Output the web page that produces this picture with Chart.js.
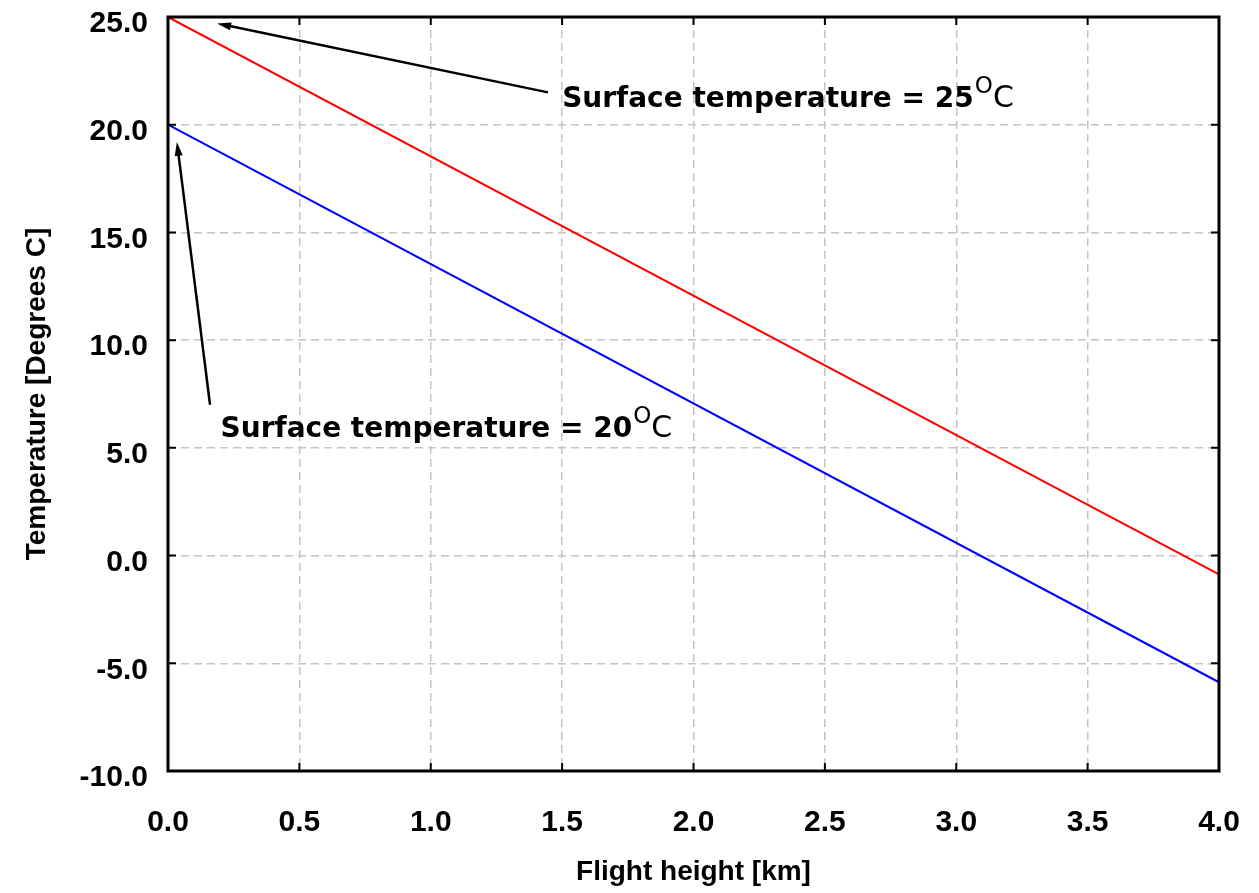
<!DOCTYPE html>
<html>
<head>
<meta charset="utf-8">
<script src="https://cdn.jsdelivr.net/npm/chart.js@4.4.1/dist/chart.umd.min.js"></script>
<style>
  html, body { margin: 0; padding: 0; background: #fff; }
  #box { width: 1259px; height: 893px; }
</style>
</head>
<body>
<div id="box"><canvas id="myChart"></canvas></div>
<script>
// flight height [km] and temperature [deg C] for two surface temperatures
const heightKm = [0.0, 4.0];
const tempSurf25 = [25.0, -0.87];
const tempSurf20 = [20.0, -5.88];

const xTicks = [0.0, 0.5, 1.0, 1.5, 2.0, 2.5, 3.0, 3.5, 4.0];
const yTicks = [-10.0, -5.0, 0.0, 5.0, 10.0, 15.0, 20.0, 25.0];

const noteTexts = ['Surface temperature = 25', 'Surface temperature = 20'];

// where the notes and their arrows sit, in axis units
const notes = [
  { tail: [1.446, 21.5], head: [0.187, 24.7], text: [1.50, 20.8] },
  { tail: [0.160, 7.0],  head: [0.034, 19.2], text: [0.20, 5.5] }
];

function arrow(ctx, x0, y0, x1, y1) {
  const ang = Math.atan2(y1 - y0, x1 - x0);
  ctx.beginPath();
  ctx.moveTo(x0, y0);
  ctx.lineTo(x1 - 8 * Math.cos(ang), y1 - 8 * Math.sin(ang));
  ctx.stroke();
  ctx.beginPath();
  ctx.moveTo(x1, y1);
  ctx.lineTo(x1 - 14 * Math.cos(ang) + 4 * Math.sin(ang), y1 - 14 * Math.sin(ang) - 4 * Math.cos(ang));
  ctx.lineTo(x1 - 14 * Math.cos(ang) - 4 * Math.sin(ang), y1 - 14 * Math.sin(ang) + 4 * Math.cos(ang));
  ctx.closePath();
  ctx.fill();
}

const overlay = {
  id: 'overlay',
  afterDraw(chart) {
    const { ctx, chartArea: a, scales: { x, y } } = chart;
    ctx.save();
    ctx.strokeStyle = '#000';
    ctx.fillStyle = '#000';

    // frame
    ctx.lineWidth = 3;
    ctx.strokeRect(a.left, a.top, a.right - a.left, a.bottom - a.top);

    // tick marks pointing into the plot on all four sides
    ctx.lineWidth = 2;
    ctx.beginPath();
    xTicks.forEach(v => {
      const px = x.getPixelForValue(v);
      ctx.moveTo(px, a.bottom); ctx.lineTo(px, a.bottom - 8);
      ctx.moveTo(px, a.top); ctx.lineTo(px, a.top + 8);
    });
    yTicks.forEach(v => {
      const py = y.getPixelForValue(v);
      ctx.moveTo(a.left, py); ctx.lineTo(a.left + 8, py);
      ctx.moveTo(a.right, py); ctx.lineTo(a.right - 8, py);
    });
    ctx.stroke();

    // notes with arrows
    ctx.lineWidth = 2.5;
    notes.forEach((n, i) => {
      arrow(ctx, x.getPixelForValue(n.tail[0]), y.getPixelForValue(n.tail[1]),
                 x.getPixelForValue(n.head[0]), y.getPixelForValue(n.head[1]));
      let tx = x.getPixelForValue(n.text[0]);
      const ty = y.getPixelForValue(n.text[1]);
      ctx.textBaseline = 'alphabetic';
      ctx.textAlign = 'left';
      ctx.font = 'bold 28px "DejaVu Sans"';
      ctx.fillText(noteTexts[i], tx, ty);
      tx += ctx.measureText(noteTexts[i]).width + 1;
      ctx.font = '23px "DejaVu Sans"';
      ctx.fillText('O', tx, ty - 14);
      tx += ctx.measureText('O').width;
      ctx.font = '30px "DejaVu Sans"';
      ctx.fillText('C', tx, ty);
    });
    ctx.restore();
  }
};

const tickFont = { family: '"Liberation Sans", Arial, sans-serif', size: 30, weight: 'bold' };
const titleFont = { family: '"Liberation Sans", Arial, sans-serif', size: 28, weight: 'bold' };

// keep the plot box fixed; labels may overhang into the margins
function noOverhang(s) {
  s.paddingTop = 0; s.paddingBottom = 0; s.paddingLeft = 0; s.paddingRight = 0;
}

const ctx = document.getElementById('myChart').getContext('2d');
const chart = new Chart(ctx, {
  type: 'line',
  data: {
    datasets: [
      {
        label: 'Surface temperature = 25 C',
        data: heightKm.map((h, i) => ({ x: h, y: tempSurf25[i] })),
        borderColor: '#ff0000',
        borderWidth: 2,
        pointRadius: 0
      },
      {
        label: 'Surface temperature = 20 C',
        data: heightKm.map((h, i) => ({ x: h, y: tempSurf20[i] })),
        borderColor: '#0000ff',
        borderWidth: 2,
        pointRadius: 0
      }
    ]
  },
  options: {
    responsive: true,
    maintainAspectRatio: false,
    animation: false,
    layout: { padding: { left: 0, top: 17, right: 40, bottom: 0 } },
    plugins: { legend: { display: false }, tooltip: { enabled: false } },
    scales: {
      x: {
        type: 'linear',
        min: 0, max: 4,
        afterBuildTicks: s => { s.ticks = xTicks.map(v => ({ value: v })); },
        afterFit: s => { s.height = 122; noOverhang(s); },
        ticks: {
          color: '#000', font: tickFont, padding: 34,
          callback: v => Number(v).toFixed(1)
        },
        grid: { color: '#c4c4c4', lineWidth: 1.5, drawTicks: false },
        border: { display: false, dash: [8, 5] },
        title: { display: true, text: 'Flight height [km]', color: '#000', font: titleFont, padding: { top: 8 } }
      },
      y: {
        type: 'linear',
        min: -10, max: 25,
        afterBuildTicks: s => { s.ticks = yTicks.map(v => ({ value: v })); },
        afterFit: s => { s.width = 168; noOverhang(s); },
        ticks: {
          color: '#000', font: tickFont, padding: 20, labelOffset: 7,
          callback: v => Number(v).toFixed(1)
        },
        grid: { color: '#c4c4c4', lineWidth: 1.5, drawTicks: false },
        border: { display: false, dash: [8, 5] },
        title: { display: true, text: 'Temperature [Degrees C]', color: '#000', font: titleFont, padding: { top: 20, bottom: 0 } }
      }
    }
  },
  plugins: [overlay]
});
</script>
</body>
</html>
